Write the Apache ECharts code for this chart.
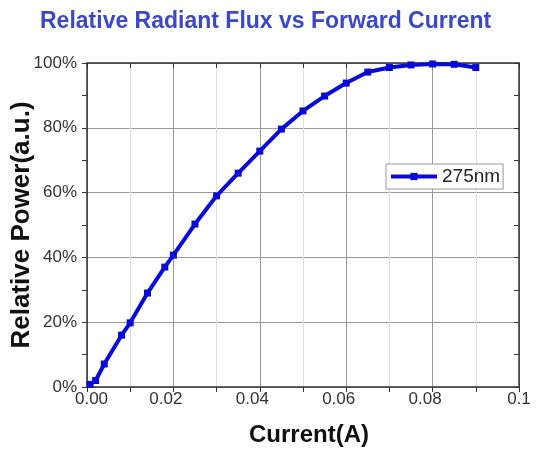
<!DOCTYPE html>
<html><head><meta charset="utf-8">
<script src="https://cdn.jsdelivr.net/npm/echarts@6/dist/echarts.min.js"></script>
<style>html,body{margin:0;padding:0;background:#fff}#c{width:536px;height:450px}</style>
</head><body><div id="c"></div>
<script>
const currentA = [0.0007, 0.002, 0.004, 0.008, 0.010, 0.014, 0.018, 0.020, 0.025, 0.030, 0.035, 0.040, 0.045, 0.050, 0.055, 0.060, 0.065, 0.070, 0.075, 0.080, 0.085, 0.090];
const powerPct = [0.8, 2, 7.1, 16, 19.8, 29, 37, 40.7, 50.3, 59, 66, 72.8, 79.6, 85.2, 89.8, 93.8, 97.2, 98.6, 99.4, 99.7, 99.6, 98.6];
const xTickLabels = ['0.00', '0.02', '0.04', '0.06', '0.08', '0.1'];
const yTickLabels = ['0%', '20%', '40%', '60%', '80%', '100%'];
const seriesName = '275nm';

const chart = echarts.init(document.getElementById('c'));
const font = 'Liberation Sans, Arial, sans-serif';
const axisLineStyle = {color: '#333', width: 1.5};
const tickFont = {fontSize: 17, color: '#333', fontFamily: font};
chart.setOption({
  animation: false,
  title: {text: 'Relative Radiant Flux vs Forward Current', left: 35, top: 5,
    textStyle: {color: '#3c49c6', fontSize: 23, fontWeight: 'bold', fontFamily: font}},
  grid: {left: 87, right: 17, top: 63, bottom: 63, containLabel: false, outerBoundsMode: 'none'},
  legend: {data: [seriesName], left: 386, top: 164, itemWidth: 46, itemHeight: 9, itemGap: 4,
    padding: [3, 3, 3, 3], borderColor: '#999', borderWidth: 1, borderRadius: 0, backgroundColor: '#fff',
    lineStyle: {width: 4},
    textStyle: {fontSize: 19, color: '#222', fontFamily: font}},
  xAxis: [{
    type: 'value', min: 0, max: 0.1, interval: 0.02, position: 'bottom',
    name: 'Current(A)', nameLocation: 'middle', nameGap: 36, nameMoveOverlap: false,
    nameTextStyle: {fontSize: 24, fontWeight: 'bold', color: '#111', fontFamily: font, padding: [0, 0, 0, 12]},
    axisLine: {show: true, onZero: false, lineStyle: axisLineStyle},
    axisTick: {show: true, inside: false, length: 5, lineStyle: {color: '#333'}},
    minorTick: {show: true, splitNumber: 2, length: 5, lineStyle: {color: '#333'}},
    axisLabel: {margin: 4,
      formatter: (v, i) => {
        const cls = i === 0 ? 'f' : (i === xTickLabels.length - 1 ? 'l' : 'm');
        return '{' + cls + '|' + xTickLabels[i] + '}';
      },
      rich: {
        f: Object.assign({padding: [0, 0, 0, 9]}, tickFont),
        m: Object.assign({padding: [0, 15, 0, 0]}, tickFont),
        l: Object.assign({}, tickFont)
      }},
    splitLine: {show: true, lineStyle: {color: '#999', width: 1}},
    minorSplitLine: {show: true, lineStyle: {color: '#ddd', width: 1}}
  }, {
    type: 'value', min: 0, max: 0.1, interval: 0.02, position: 'top',
    axisLine: {show: true, onZero: false, lineStyle: axisLineStyle},
    axisTick: {show: true, inside: true, length: 5, lineStyle: {color: '#333'}},
    minorTick: {show: true, splitNumber: 2, length: 5, lineStyle: {color: '#333'}},
    axisLabel: {show: false}, splitLine: {show: false}
  }],
  yAxis: [{
    type: 'value', min: 0, max: 100, interval: 20, position: 'left',
    name: 'Relative Power(a.u.)', nameLocation: 'middle', nameGap: 52, nameMoveOverlap: false,
    nameTextStyle: {fontSize: 26, fontWeight: 'bold', color: '#111', fontFamily: font},
    axisLine: {show: true, onZero: false, lineStyle: axisLineStyle},
    axisTick: {show: true, inside: false, length: 5, lineStyle: {color: '#333'}},
    minorTick: {show: true, splitNumber: 2, length: 5, lineStyle: {color: '#333'}},
    axisLabel: Object.assign({margin: 10, formatter: (v, i) => yTickLabels[i]}, tickFont),
    splitLine: {show: true, lineStyle: {color: '#999', width: 1}}
  }, {
    type: 'value', min: 0, max: 100, interval: 20, position: 'right',
    axisLine: {show: true, onZero: false, lineStyle: axisLineStyle},
    axisTick: {show: true, inside: true, length: 5, lineStyle: {color: '#333'}},
    minorTick: {show: true, splitNumber: 2, length: 5, lineStyle: {color: '#333'}},
    axisLabel: {show: false}, splitLine: {show: false}
  }],
  series: [{
    name: seriesName, type: 'line', xAxisIndex: 0, yAxisIndex: 0,
    data: currentA.map((x, i) => [x, powerPct[i]]),
    smooth: false, symbol: 'rect', symbolSize: 7, showSymbol: true,
    lineStyle: {color: '#0a0ad8', width: 4},
    itemStyle: {color: '#0a0ad8'}
  }]
});
</script></body></html>
